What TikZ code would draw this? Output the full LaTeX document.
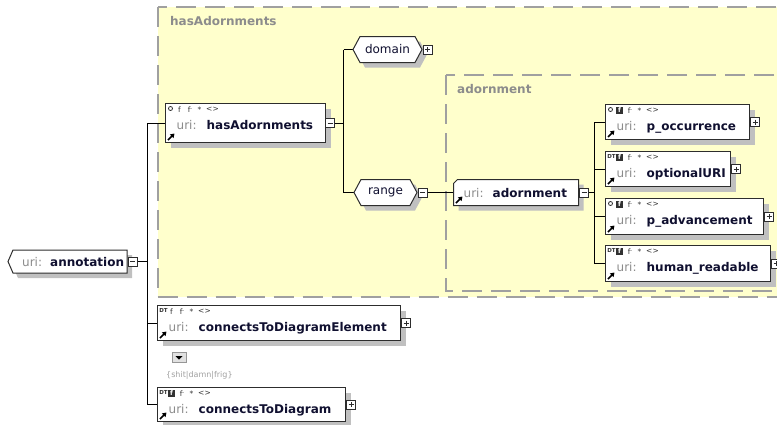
\documentclass[tikz,border=0pt]{standalone}
\usepackage{fontspec}
\setmainfont{DejaVu Sans}
\usetikzlibrary{arrows.meta}
\pgfdeclarelayer{groups}
\pgfdeclarelayer{wires}
\pgfsetlayers{groups,wires,main}

\definecolor{groupfill}{RGB}{255,255,204}
\definecolor{groupline}{RGB}{160,160,160}
\definecolor{grouptext}{RGB}{140,140,140}
\definecolor{shadowc}{RGB}{192,192,192}
\definecolor{edgec}{RGB}{45,45,45}
\definecolor{uric}{RGB}{140,140,140}
\definecolor{namec}{RGB}{16,16,48}
\definecolor{iconc}{RGB}{50,50,50}
\definecolor{enumc}{RGB}{160,160,160}
\definecolor{btnfill}{RGB}{225,225,225}
\definecolor{btnline}{RGB}{150,150,150}

\tikzset{
  groupbox/.style={draw=groupline, fill=groupfill, line width=2pt, dash pattern=on 20pt off 9pt},
  grouplabel/.style={text=grouptext, font=\fontsize{12}{14}\selectfont\bfseries, inner sep=0pt},
  frame/.style={draw=none, inner sep=0pt, outer sep=0pt},
  outline/.style={draw=edgec, fill=white, line width=1pt},
  shade/.style={fill=shadowc},
  uritext/.style={text=uric, font=\fontsize{12}{14}\selectfont, inner sep=0pt},
  nametext/.style={text=namec, font=\fontsize{12}{14}\selectfont\bfseries, inner sep=0pt},
  facettext/.style={text=namec, font=\fontsize{12}{14}\selectfont, inner sep=0pt},
  icon/.style={text=iconc, font=\fontsize{7.5}{8}\selectfont, inner sep=0pt},
  fmark/.style={fill=iconc, text=white, font=\fontsize{6.5}{7}\selectfont\bfseries, minimum width=6.5pt, minimum height=7.5pt, inner sep=0pt},
  linkarrow/.style={line width=1.6pt, -{Triangle[length=4pt,width=5pt]}},
  conn/.style={draw=black, line width=1pt},
  pmbox/.style={draw=edgec, fill=white, line width=.8pt, minimum size=9pt, inner sep=0pt, outer sep=0pt},
  minusbox/.style={pmbox, path picture={
      \draw[line width=.9pt] ([xshift=2pt]path picture bounding box.west) -- ([xshift=-2pt]path picture bounding box.east);}},
  plusbox/.style={pmbox, path picture={
      \draw[line width=.9pt] ([xshift=2pt]path picture bounding box.west) -- ([xshift=-2pt]path picture bounding box.east);
      \draw[line width=.9pt] ([yshift=-2pt]path picture bounding box.north) -- ([yshift=2pt]path picture bounding box.south);}},
  enumtext/.style={text=enumc, font=\fontsize{8}{9}\selectfont, inner sep=0pt},
}

% outlines; #1 node, #2 cut depth, #3 offset (shadow)
\newcommand\chevpath[3]{([shift={(#3,#3)}]#1.west) -- ([shift={(#2+#3,#3)}]#1.north west) -- ([shift={(#3,#3)}]#1.north east) -- ([shift={(#3,#3)}]#1.south east) -- ([shift={(#2+#3,#3)}]#1.south west) -- cycle}
\newcommand\hexpath[3]{([shift={(#3,#3)}]#1.west) -- ([shift={(#2+#3,#3)}]#1.north west) -- ([shift={(-#2+#3,#3)}]#1.north east) -- ([shift={(#3,#3)}]#1.east) -- ([shift={(-#2+#3,#3)}]#1.south east) -- ([shift={(#2+#3,#3)}]#1.south west) -- cycle}
\newcommand\cutpath[3]{([shift={(#3,#2+#3)}]#1.north west) -- ([shift={(#2+#3,#3)}]#1.north west) -- ([shift={(#3,#3)}]#1.north east) -- ([shift={(#3,#3)}]#1.south east) -- ([shift={(#3,#3)}]#1.south west) -- cycle}

% element box: #1 name, #2 left, #3 top, #4 width, #5 height,
% #6 marker (o = optional, D = DT), #7 fixed mark (b = boxed, p = plain), #8 label
\newcommand\xelem[8]{%
  \node[frame, minimum width=#4pt, minimum height=#5pt, anchor=north west] (#1) at (#2,#3) {};
  \fill[shade] ([shift={(5,5)}]#1.north west) rectangle ([shift={(5,5)}]#1.south east);
  \filldraw[outline] (#1.north west) rectangle (#1.south east);
  \if o#6
    \draw[iconc, line width=.8pt] ([shift={(5,5)}]#1.north west) circle (2pt);
  \else
    \node[icon, font=\fontsize{5.5}{6}\selectfont\bfseries] at ([shift={(6,5)}]#1.north west) {DT};
  \fi
  \if b#7
    \node[fmark] at ([shift={(14,6)}]#1.north west) {f};
  \else
    \node[icon] at ([shift={(14,6)}]#1.north west) {f};
  \fi
  \node[icon] at ([shift={(24.5,6)}]#1.north west) {f\raisebox{1.5pt}{\fontsize{5}{5}\selectfont -}};
  \node[icon] at ([shift={(34,6.5)}]#1.north west) {*};
  \node[icon] at ([shift={(47,6)}]#1.north west) {<>};
  \draw[linkarrow] ([shift={(2.5,-2.5)}]#1.south west) -- ([shift={(9,-9)}]#1.south west);
  \node[uritext, anchor=base west] at ([shift={(11,26)}]#1.north west) {uri:};
  \node[nametext, anchor=base west] at ([shift={(41,26)}]#1.north west) {#8};
}

\begin{document}
\begin{tikzpicture}[x=1pt, y=-1pt]
\useasboundingbox (0,0) rectangle (777,424);
\clip (0,0) rectangle (777,424);

% model groups
\begin{pgfonlayer}{groups}
  \draw[groupbox] (157.5,7) rectangle (800,297);
  \draw[groupbox] (446,75) rectangle (800,291);
\end{pgfonlayer}
\node[grouplabel, anchor=base west] (grpHas) at (170,25) {hasAdornments};
\node[grouplabel, anchor=base west] (grpAdorn) at (457,93) {adornment};

% root element
\node[frame, minimum width=119pt, minimum height=23pt, anchor=north west] (annotation) at (8,250) {};
\fill[shade] \chevpath{annotation}{5}{5};
\filldraw[outline] \chevpath{annotation}{5}{0};
\node[uritext, anchor=base west] at ([shift={(14,16)}]annotation.north west) {uri:};
\node[nametext, anchor=base west] at ([shift={(42,16)}]annotation.north west) {annotation};
\node[minusbox, anchor=west] (annotation-pm) at ([xshift=1pt]annotation.east) {};

% children of annotation
\xelem{hasAdornments}{165.5}{103.5}{160}{39}{o}{p}{hasAdornments}
\node[minusbox, anchor=west] (hasAdornments-pm) at (hasAdornments.east) {};
\xelem{ctde}{157.5}{305.5}{243}{35}{D}{p}{connectsToDiagramElement}
\node[plusbox, anchor=west] (ctde-pm) at ([xshift=1pt]ctde.east) {};
\xelem{ctd}{157.5}{387.5}{188}{34}{D}{b}{connectsToDiagram}
\node[plusbox, anchor=west] (ctd-pm) at ([xshift=1pt]ctd.east) {};

% enumeration of connectsToDiagramElement
\node[draw=btnline, fill=btnfill, line width=.6pt, minimum width=14pt, minimum height=10pt, inner sep=0pt] (enumbtn) at (179,357.5) {};
\fill[black] ([shift={(-3.5,-1.5)}]enumbtn.center) -- ([shift={(3.5,-1.5)}]enumbtn.center) -- ([shift={(0,2)}]enumbtn.center) -- cycle;
\node[enumtext, anchor=base west] (enumvals) at (166,377) {\{shit|damn|frig\}};

% domain / range
\node[frame, minimum width=69pt, minimum height=26pt] (domain) at (387.5,49.5) {};
\fill[shade] \hexpath{domain}{7}{5};
\filldraw[outline] \hexpath{domain}{7}{0};
\node[facettext] at (domain.center) {domain};
\node[plusbox, anchor=west] (domain-pm) at ([xshift=1pt]domain.east) {};

\node[frame, minimum width=63pt, minimum height=26pt] (range) at (385.5,192.5) {};
\fill[shade] \hexpath{range}{7}{5};
\filldraw[outline] \hexpath{range}{7}{0};
\node[facettext] at (range.center) {range};
\node[minusbox, anchor=west] (range-pm) at ([xshift=1pt]range.east) {};

% adornment
\node[frame, minimum width=125pt, minimum height=26pt, anchor=north west] (adornment) at (453.5,179.5) {};
\fill[shade] \cutpath{adornment}{4}{5};
\filldraw[outline] \cutpath{adornment}{4}{0};
\draw[linkarrow] ([shift={(2.5,-2.5)}]adornment.south west) -- ([shift={(9,-9)}]adornment.south west);
\node[uritext, anchor=base west] at ([shift={(10,17.5)}]adornment.north west) {uri:};
\node[nametext, anchor=base west] at ([shift={(39,17.5)}]adornment.north west) {adornment};
\node[minusbox, anchor=west] (adornment-pm) at ([xshift=1pt]adornment.east) {};

% children of adornment
\xelem{pocc}{605.5}{104.5}{144}{35}{o}{b}{p\_occurrence}
\node[plusbox, anchor=west] (pocc-pm) at ([xshift=1pt]pocc.east) {};
\xelem{opturi}{605.5}{151.5}{125}{35}{D}{b}{optionalURI}
\node[plusbox, anchor=west] (opturi-pm) at ([xshift=1pt]opturi.east) {};
\xelem{padv}{605.5}{198.5}{158}{36}{o}{b}{p\_advancement}
\node[plusbox, anchor=west] (padv-pm) at ([xshift=1pt]padv.east) {};
\xelem{hread}{605.5}{245.5}{165}{36}{D}{b}{human\_readable}
\node[plusbox, anchor=west] (hread-pm) at ([xshift=1pt]hread.east) {};

% connectors
\coordinate (t1) at (147.5,0);
\coordinate (t2) at (343.5,0);
\coordinate (t3) at (594.5,0);
\begin{pgfonlayer}{wires}
  \draw[conn] (annotation-pm.east) -- (t1 |- annotation-pm.east);
  \draw[conn] (t1 |- hasAdornments.west) -- (t1 |- ctd.west);
  \draw[conn] (t1 |- hasAdornments.west) -- (hasAdornments.west);
  \draw[conn] (t1 |- ctde.west) -- (ctde.west);
  \draw[conn] (t1 |- ctd.west) -- (ctd.west);

  \draw[conn] (hasAdornments-pm.east) -- (t2 |- hasAdornments-pm.east);
  \draw[conn] (t2 |- domain.west) -- (t2 |- range.west);
  \draw[conn] (t2 |- domain.west) -- (domain.west);
  \draw[conn] (t2 |- range.west) -- (range.west);
  \draw[conn] (range-pm.east) -- (adornment.west |- range-pm.east);

  \draw[conn] (adornment-pm.east) -- (t3 |- adornment-pm.east);
  \draw[conn] (t3 |- pocc.west) -- (t3 |- hread.west);
  \draw[conn] (t3 |- pocc.west) -- (pocc.west);
  \draw[conn] (t3 |- opturi.west) -- (opturi.west);
  \draw[conn] (t3 |- padv.west) -- (padv.west);
  \draw[conn] (t3 |- hread.west) -- (hread.west);
\end{pgfonlayer}
\end{tikzpicture}
\end{document}
